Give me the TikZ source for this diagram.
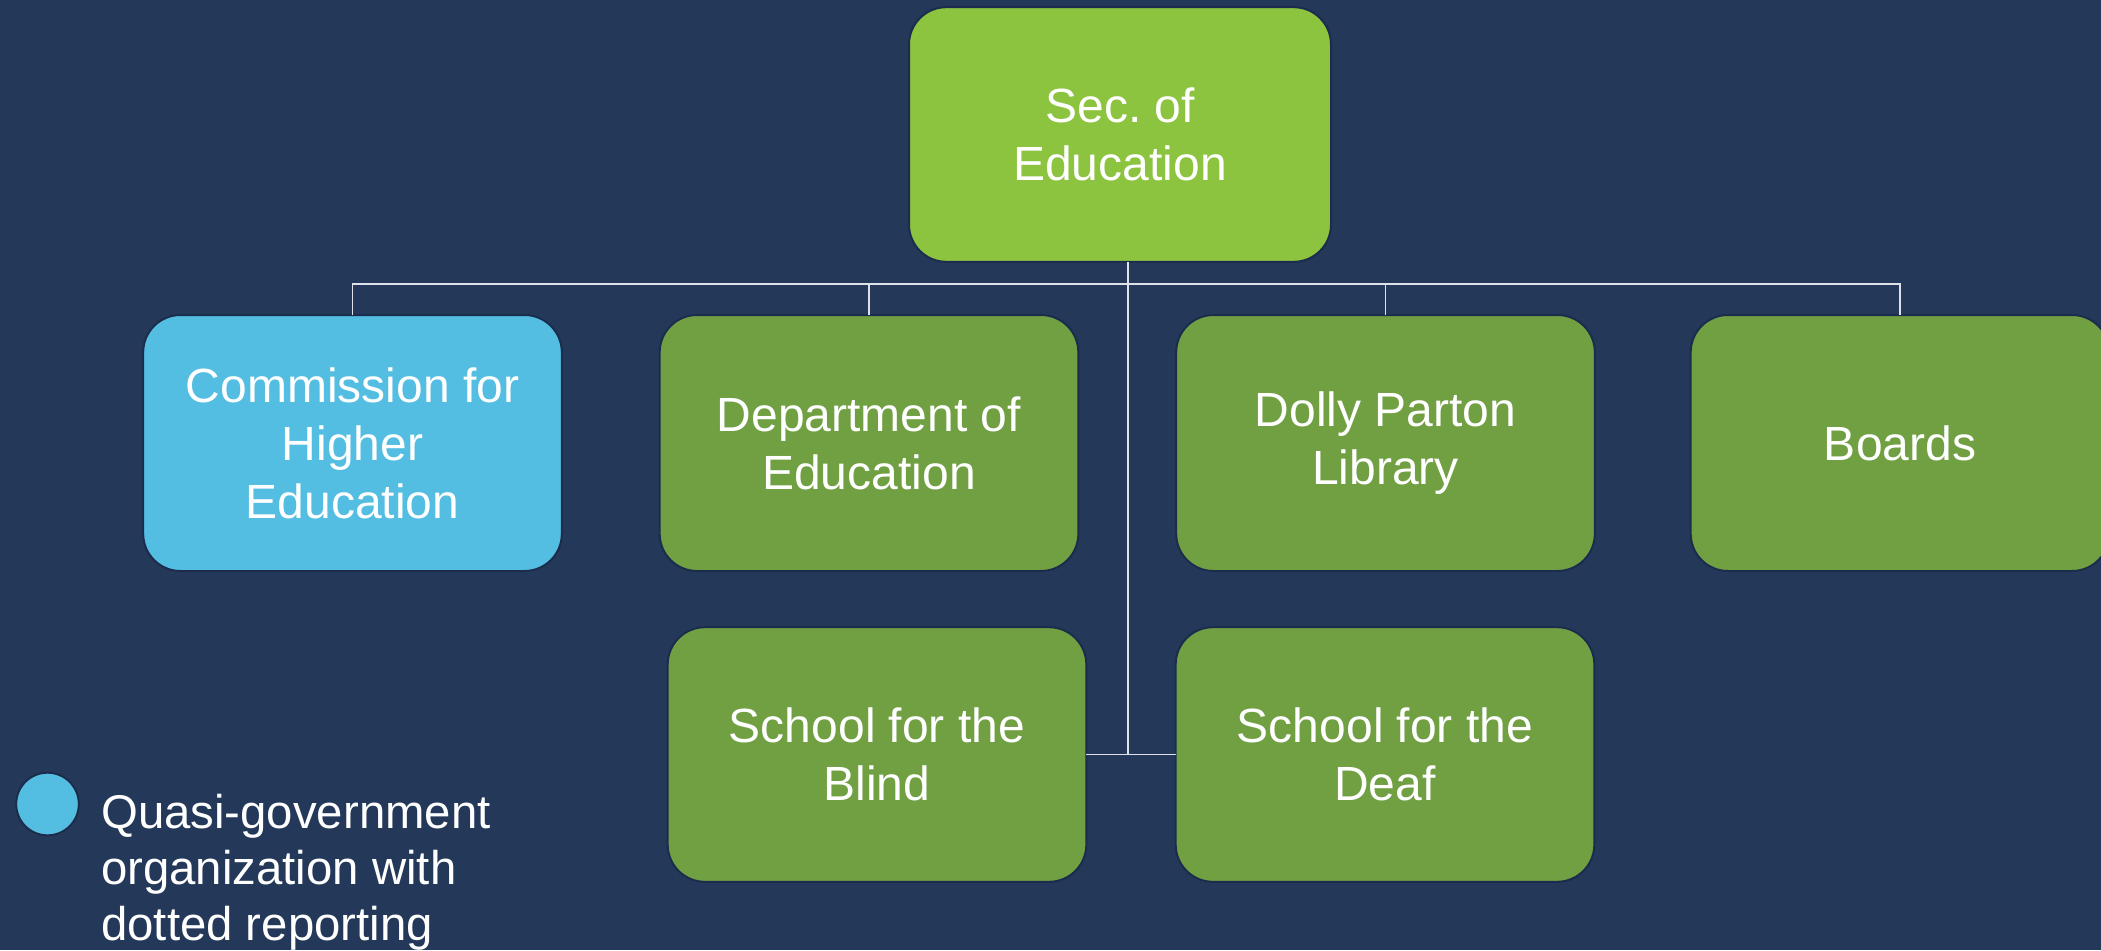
\documentclass[tikz,border=0pt]{standalone}
\usepackage{fontspec}
\setmainfont{Liberation Sans}
\definecolor{navybg}{RGB}{36,57,89}
\definecolor{navyedge}{RGB}{27,44,76}
\definecolor{limegreen}{RGB}{140,196,63}
\definecolor{leafgreen}{RGB}{113,160,67}
\definecolor{skyblue}{RGB}{83,190,226}
\definecolor{linkgrey}{RGB}{222,226,232}
\tikzset{
  orgbox/.style={draw=navyedge, line width=1.5pt, rounded corners=28pt,
    inner sep=0pt, outer sep=0pt, text=white, align=center,
    font=\fontsize{36}{43.5}\selectfont,
    minimum width=314pt, minimum height=192pt},
  headbox/.style={orgbox, fill=limegreen, minimum width=316.5pt, minimum height=191pt},
  unitbox/.style={orgbox, fill=leafgreen},
  quasibox/.style={orgbox, fill=skyblue},
  link/.style={draw=linkgrey, line width=1pt},
}
\begin{document}
\begin{tikzpicture}[x=0.75pt, y=-0.75pt]
  % page background
  \fill[navybg] (0,0) rectangle (2101,950);
  \useasboundingbox (0,0) rectangle (2101,950);
  \clip (0,0) rectangle (2101,950);

  % organisation boxes
  \node[headbox] (sec) at (1120,134.5) {Sec.\ of\\Education};
  \node[quasibox] (comm) at (352.5,443) {Commission for\\Higher\\Education};
  \node[unitbox] (dept) at (869,443) {Department of\\Education};
  \node[unitbox] (dolly) at (1385.5,443) {Dolly Parton\\Library};
  \node[unitbox] (boards) at (1900,443) {Boards};
  \node[unitbox, minimum height=191pt] (blind) at (877,754.5) {School for the\\Blind};
  \node[unitbox, minimum height=191pt] (deaf) at (1385,754.5) {School for the\\Deaf};

  % reporting lines
  \coordinate (bus) at (0,284);
  \coordinate (stem) at ([xshift=6pt]sec.south);
  \draw[link] (comm.north) -- (comm.north |- bus) -- (boards.north |- bus) -- (boards.north);
  \draw[link] (dept.north) -- (dept.north |- bus);
  \draw[link] (dolly.north) -- (dolly.north |- bus);
  \draw[link] (stem) -- (stem |- blind.east);
  \draw[link] (blind.east) -- (deaf.west);

  % legend
  \node[circle, draw=navyedge, line width=1.5pt, fill=skyblue, inner sep=0pt,
        minimum size=47pt] (key) at (47.5,804) {};
  \node[anchor=base west, inner sep=0pt, text=white, align=left,
        font=\fontsize{35.5}{42}\selectfont] (keytext) at (101,940)
        {Quasi-government\\organization with\\dotted reporting};
\end{tikzpicture}
\end{document}
